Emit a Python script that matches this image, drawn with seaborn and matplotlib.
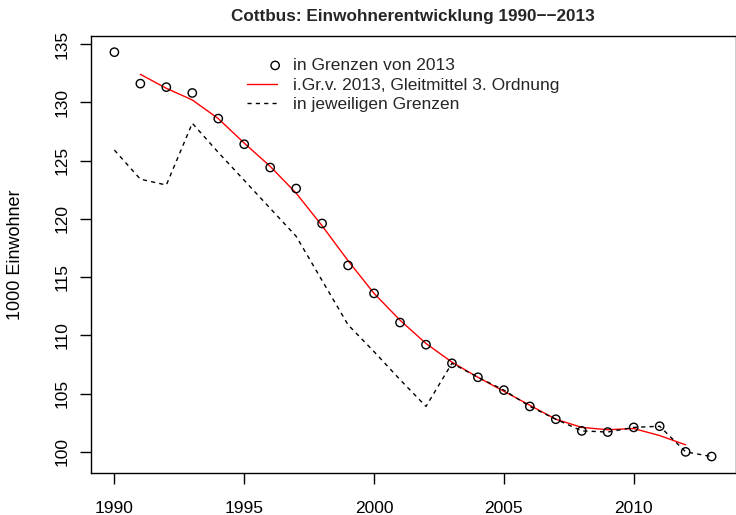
import matplotlib
matplotlib.use('Agg')
import matplotlib.pyplot as plt
import seaborn as sns
import pandas as pd
from matplotlib.legend_handler import HandlerPathCollection

years = list(range(1990, 2014))
# Einwohner in Grenzen von 2013 (in 1000)
grenzen_2013 = [134.3, 131.6, 131.3, 130.8, 128.6, 126.4, 124.4, 122.6, 119.6, 116.0,
                113.6, 111.1, 109.2, 107.6, 106.4, 105.3, 103.9, 102.8, 101.8, 101.7,
                102.1, 102.2, 100.0, 99.6]
# Gleitmittel 3. Ordnung (1991-2012)
gleit_years = list(range(1991, 2013))
gleitmittel = [132.4, 131.2, 130.2, 128.6, 126.5, 124.5, 122.2, 119.4, 116.4, 113.6,
               111.3, 109.3, 107.7, 106.4, 105.2, 104.0, 102.8, 102.1, 101.9, 102.0,
               101.4, 100.6]
# in jeweiligen Grenzen
jeweilig = [125.9, 123.4, 122.9, 128.2, 125.7, 123.3, 120.9, 118.5, 114.7, 110.9,
            108.6, 106.2, 103.9, 107.6, 106.4, 105.3, 103.9, 102.8, 101.8, 101.7,
            102.1, 102.2, 100.0, 99.6]

df = pd.DataFrame({'Jahr': years, 'g2013': grenzen_2013, 'jew': jeweilig})
dfg = pd.DataFrame({'Jahr': gleit_years, 'gm': gleitmittel})


# legend point sits at the right end of the handle, like in R
class RightPoint(HandlerPathCollection):
    def get_xdata(self, legend, xdescent, ydescent, width, height, fontsize):
        xd, xm = super().get_xdata(legend, xdescent, ydescent, width, height, fontsize)
        return xd, [-xdescent + 0.94 * width]


sns.set_style('ticks')
plt.rcParams['font.family'] = ['Liberation Sans', 'DejaVu Sans']

fig = plt.figure(figsize=(7.36, 5.15), dpi=100)
ax = fig.add_axes([90.5 / 736, 1 - 472.7 / 515, (735.5 - 90.5) / 736, (472.7 - 36) / 515])

sns.scatterplot(data=df, x='Jahr', y='g2013', ax=ax, marker='o', s=36,
                facecolors='none', edgecolor='black', linewidth=1.0,
                label='in Grenzen von 2013', zorder=3)
sns.lineplot(data=dfg, x='Jahr', y='gm', ax=ax, color='#ff0000', linewidth=1.0,
             label='i.Gr.v. 2013, Gleitmittel 3. Ordnung')
sns.lineplot(data=df, x='Jahr', y='jew', ax=ax, color='black', linewidth=1.0,
             linestyle='--', label='in jeweiligen Grenzen')
ax.lines[-1].set_dashes([3, 3])

ax.margins(x=0.04, y=0.04)
ax.set_xticks([1990, 1995, 2000, 2005, 2010])
ax.set_yticks([100, 105, 110, 115, 120, 125, 130, 135])
ax.tick_params(axis='both', direction='out', length=7.7, width=1.0, color='black',
               labelsize=12.5, labelcolor='black')
ax.tick_params(axis='x', pad=12.5)
ax.tick_params(axis='y', pad=7)
for lab in ax.get_yticklabels():
    lab.set_rotation(90)
    lab.set_va('center')
for sp in ax.spines.values():
    sp.set_visible(True)
    sp.set_color('black')
    sp.set_linewidth(1.0)

ax.set_xlabel('')
ax.set_ylabel('1000 Einwohner', fontsize=13, color='black')
ax.yaxis.set_label_coords((24 - 90.5) / 645, 0.5)
ax.set_title('Cottbus: Einwohnerentwicklung 1990\u2212\u22122013', fontsize=12.3,
             fontweight='bold', pad=11)

handles, labels = ax.get_legend_handles_labels()
ax.legend(handles, labels, loc='upper left', bbox_to_anchor=(0.242, 0.95),
          frameon=False, fontsize=12.5, handlelength=1.75, handletextpad=0.9,
          labelspacing=0.26, borderpad=0, borderaxespad=0,
          handler_map={type(handles[0]): RightPoint()})

fig.savefig('out.png', dpi=100)
